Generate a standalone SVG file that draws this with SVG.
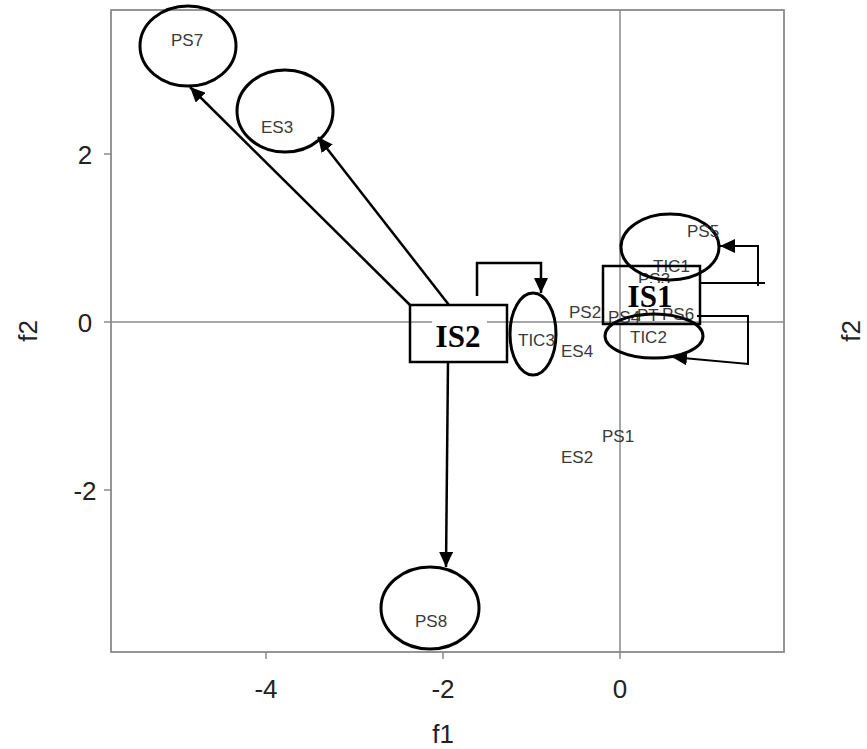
<svg xmlns="http://www.w3.org/2000/svg" width="867" height="749" viewBox="0 0 867 749">
<style>
.frame{fill:none;stroke:#8a8a8a;stroke-width:1.8}
.axis{stroke:#8a8a8a;stroke-width:1.5}
.tick{stroke:#8a8a8a;stroke-width:1.5}
.ticklab{font-family:"Liberation Sans",Arial,sans-serif;font-size:26px;fill:#222;text-anchor:middle}
.axlab{font-family:"Liberation Sans",Arial,sans-serif;font-size:26px;fill:#222;text-anchor:middle}
.pt{font-family:"Liberation Sans",Arial,sans-serif;font-size:17px;fill:#3a3a3a}
.node{fill:none;stroke:#000;stroke-width:3}
.box{fill:none;stroke:#000;stroke-width:2.5}
.big{font-family:"Liberation Serif","Times New Roman",serif;font-size:31px;font-weight:bold;fill:#000;text-anchor:middle}
.conn{fill:none;stroke:#000;stroke-width:2.5}
.conn2{fill:none;stroke:#000;stroke-width:2}
</style>
<defs>
<marker id="arr" markerUnits="userSpaceOnUse" markerWidth="16" markerHeight="14" refX="15" refY="7" orient="auto">
<path d="M0,0 L15,7 L0,14 z" fill="#000"/>
</marker>
</defs>
<rect x="0" y="0" width="867" height="749" fill="#fff"/>
<g id="axes">
<rect class="frame" x="111" y="10" width="673" height="642"/>
<line class="axis" x1="111" y1="322" x2="784" y2="322"/>
<line class="axis" x1="620" y1="10" x2="620" y2="652"/>
<line class="tick" x1="104" y1="154" x2="111" y2="154"/>
<line class="tick" x1="104" y1="322" x2="111" y2="322"/>
<line class="tick" x1="104" y1="490" x2="111" y2="490"/>
<line class="tick" x1="266" y1="652" x2="266" y2="659"/>
<line class="tick" x1="443" y1="652" x2="443" y2="659"/>
<line class="tick" x1="620" y1="652" x2="620" y2="659"/>
<text class="ticklab" x="85" y="164">2</text>
<text class="ticklab" x="85" y="332">0</text>
<text class="ticklab" x="85" y="500">-2</text>
<text class="ticklab" x="266" y="698">-4</text>
<text class="ticklab" x="443" y="698">-2</text>
<text class="ticklab" x="620" y="698">0</text>
<text class="axlab" x="443" y="743">f1</text>
<text class="axlab" transform="translate(37,331) rotate(-90)">f2</text>
<text class="axlab" transform="translate(860,331) rotate(-90)">f2</text>
</g>
<g id="points">
<text class="pt" x="569" y="318">PS2</text>
<text class="pt" x="608" y="323">PS4</text>
<text class="pt" x="637" y="321">PT</text>
<text class="pt" x="662" y="320">PS6</text>
<text class="pt" x="638" y="285">PS3</text>
<text class="pt" x="561" y="357">ES4</text>
<text class="pt" x="602" y="442">PS1</text>
<text class="pt" x="561" y="463">ES2</text>
</g>
<g id="PS7">
<ellipse class="node" cx="188" cy="46" rx="48" ry="40"/>
<text class="pt" x="171" y="46">PS7</text>
</g>
<g id="ES3">
<ellipse class="node" cx="285" cy="111" rx="48" ry="41"/>
<text class="pt" x="261" y="133">ES3</text>
</g>
<g id="PS8">
<ellipse class="node" cx="430" cy="608" rx="49" ry="41"/>
<text class="pt" x="415" y="627">PS8</text>
</g>
<g id="TIC3">
<ellipse class="node" cx="533" cy="334" rx="23" ry="41"/>
<text class="pt" x="518" y="346">TIC3</text>
</g>
<g id="PS5">
<ellipse class="node" cx="670" cy="247" rx="49" ry="33"/>
<text class="pt" x="687" y="237">PS5</text>
<text class="pt" x="653" y="272">TIC1</text>
</g>
<g id="TIC2">
<ellipse class="node" cx="654" cy="336" rx="49" ry="22"/>
<text class="pt" x="630" y="343">TIC2</text>
</g>
<g id="IS2">
<rect x="432" y="317" width="55" height="33" fill="#fff"/>
<rect class="box" x="410" y="305" width="97" height="57"/>
<text class="big" x="458" y="347">IS2</text>
</g>
<g id="IS1">
<rect x="627" y="283" width="46" height="25" fill="#fff"/>
<rect class="box" x="603" y="266" width="97" height="58"/>
<text class="big" x="650" y="307">IS1</text>
</g>
<g id="connectors">
<line class="conn" x1="410" y1="305" x2="190" y2="87" marker-end="url(#arr)"/>
<line class="conn" x1="449" y1="305" x2="318" y2="137" marker-end="url(#arr)"/>
<polyline class="conn" points="477,296 477,263 541,263 541,293" marker-end="url(#arr)"/>
<line class="conn" x1="448" y1="362" x2="446" y2="567" marker-end="url(#arr)"/>
<line class="conn2" x1="700" y1="283" x2="765" y2="283"/>
<polyline class="conn2" points="758,286 758,246 720,246" marker-end="url(#arr)"/>
<polyline class="conn2" points="697,316 748,316 748,364 672,357" marker-end="url(#arr)"/>
</g>
</svg>
